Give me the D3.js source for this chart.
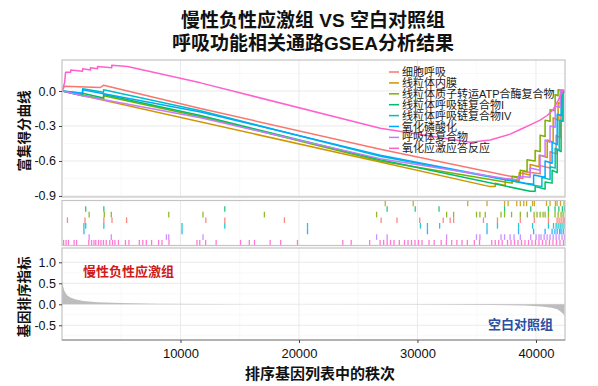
<!DOCTYPE html>
<html>
<head>
<meta charset="utf-8">
<script src="https://cdn.jsdelivr.net/npm/d3@7"></script>
<style>
  html, body { margin: 0; padding: 0; background: #fff; }
  svg { display: block; font-family: "Liberation Sans", Arial, "Noto Sans CJK SC", sans-serif; }
</style>
</head>
<body>
<svg id="chart" width="598" height="386"></svg>
<script>
// ——— Data ———
const titleLines = ['慢性负性应激组 VS 空白对照组', '呼吸功能相关通路GSEA分析结果'];

const setNames = [
    '细胞呼吸', '线粒体内膜', '线粒体质子转运ATP合酶复合物', '线粒体呼吸链复合物I',
    '线粒体呼吸链复合物IV', '氧化磷酸化', '呼吸体复合物', '氧化应激应答反应'
];
const setColors = ['#F8766D', '#CD9600', '#7CAE00', '#00BE67', '#00BFC4', '#00A9FF', '#C77CFF', '#FF61CC'];

// running enrichment score, [rank, ES]
const esCellResp = [[0,0],[200,0.04],[3250,0.03],[3510,0.05],[11690,-0.15],[26860,-0.50],[38240,-0.74],[38900,-0.75],[38900,-0.69],[40350,-0.71],[40350,-0.64],[41190,-0.66],[41190,-0.52],[41700,-0.54],[41700,-0.38],[42040,-0.40],[42040,-0.20],[42200,-0.21],[42200,-0.02],[42400,0]];
const esInnerMembrane = [[0,0],[36140,-0.82],[36560,-0.82],[36560,-0.79],[37400,-0.81],[37400,-0.75],[38580,-0.77],[38580,-0.70],[39510,-0.72],[39510,-0.63],[40270,-0.65],[40270,-0.55],[40950,-0.57],[40950,-0.42],[41450,-0.44],[41450,-0.23],[41870,-0.25],[41870,-0.10],[42120,-0.11],[42120,0.01],[42400,0]];
const esAtpSynthase = [[0,0],[3510,-0.07],[3510,-0.04],[11690,-0.22],[26860,-0.60],[37400,-0.78],[37990,-0.79],[37990,-0.73],[38670,-0.74],[38670,-0.68],[39250,-0.69],[39250,-0.59],[39930,-0.60],[39930,-0.51],[40350,-0.52],[40350,-0.38],[40770,-0.39],[40770,-0.25],[41190,-0.26],[41190,-0.16],[41620,-0.17],[41620,-0.03],[41870,-0.04],[41870,0.01],[42400,0]];
const esComplexI = [[0,0],[1740,-0.04],[1740,-0.02],[3510,-0.06],[3510,-0.03],[11690,-0.21],[26860,-0.59],[39510,-0.86],[39930,-0.86],[39930,-0.82],[40770,-0.84],[40770,-0.78],[41360,-0.79],[41360,-0.68],[41790,-0.70],[41790,-0.50],[42120,-0.52],[42120,-0.25],[42290,-0.26],[42290,-0.02],[42400,0]];
const esComplexIV = [[0,0],[1740,-0.02],[1740,0.02],[3510,-0.01],[3510,0.01],[11690,-0.17],[26860,-0.56],[39930,-0.81],[40500,-0.82],[40500,-0.74],[41190,-0.76],[41190,-0.65],[41620,-0.66],[41620,-0.49],[41960,-0.51],[41960,-0.25],[42200,-0.26],[42200,-0.03],[42400,0]];
const esOxPhos = [[0,0],[1740,-0.02],[1740,0.01],[11690,-0.18],[26860,-0.55],[39090,-0.79],[39800,-0.80],[39800,-0.72],[40770,-0.74],[40770,-0.60],[41360,-0.62],[41360,-0.44],[41790,-0.46],[41790,-0.20],[42120,-0.21],[42120,-0.01],[42400,0]];
const esRespirasome = [[0,0],[1740,-0.04],[11690,-0.23],[26860,-0.58],[37400,-0.75],[38500,-0.76],[38500,-0.73],[39510,-0.74],[39510,-0.66],[40350,-0.68],[40350,-0.55],[40770,-0.56],[40770,-0.42],[41190,-0.44],[41190,-0.30],[41620,-0.31],[41620,-0.13],[42040,-0.14],[42040,0.01],[42400,0]];
const esOxStress = [[0,0],[220,0.07],[300,0.16],[730,0.16],[730,0.18],[1740,0.17],[1740,0.19],[2400,0.18],[2400,0.20],[3000,0.19],[3000,0.21],[4200,0.20],[4200,0.22],[5530,0.21],[11690,0.07],[26860,-0.32],[34450,-0.44],[36140,-0.42],[37820,-0.37],[38670,-0.33],[39510,-0.29],[40350,-0.25],[40940,-0.21],[41450,-0.16],[41870,-0.08],[42290,0.01],[42400,0]];

// gene hit positions (ranks) per set
const hitsCellResp = [460,1940,3530,4220,5450,12140,13740,18770,26930,28270,30190,32170,32760,33050,35570,36750,38680,39860,41050,41780,41950,42120,42290,42400];
const hitsInnerMembrane = [27280,29640,34240,35870,37350,37650,38380,38680,38970,39210,39710,39860,40890,41190,41640,41780,42070,42370];
const hitsAtpSynthase = [2290,3570,4160,9010,11900,17080,26550,32460,33050,34980,35270,35720,37050,37350,37940,38680,39270,39840,40090,40350,40600,40770,41050,41610,41870,42120,42290];
const hitsComplexI = [2000,3530,13740,27440,29810,31820,37350,39560,41050,41610,41930,42230,42400];
const hitsComplexIV = [1850,2000,3530,10130,13740,20720,30250,30840,31870,35870,36750,38530,39710,41050,41480,41700,41870,42040,42200,42370];
const hitsOxPhos = [1850,10130,20720,30840,35870,38530,39800,40770,41360,41600,41790,42000,42120,42300];
const hitsRespirasome = [2290,4160,8810,9010,11900,26550,27440,32460,34980,35270,37050,37350,37820,38150,38680,39560,40010,40260,40430,40690,40940,41190,41450,41700,41950,42200,42400];
const hitsOxStress = [135,346,548,1020,1231,2259,2495,2698,2849,3085,3288,3498,3734,4030,4266,4468,4763,5353,5648,6525,6820,7115,7562,8152,8438,9029,11389,11625,12122,13008,15065,15806,16245,17568,18454,19870,23697,24405,25964,26850,27145,27440,27726,28021,28468,28906,29201,29496,29791,30087,30382,30972,31410,32000,32439,32886,33324,33762,34209,34799,35237,36266,36561,36856,37151,37598,37893,38188,38483,38778,39073,39368,39663,39958,40253,40548,40843,41138,41433,41728,42024,42319];

// top-to-bottom order of the hit rows
const rugOrder = ['线粒体内膜', '线粒体呼吸链复合物I', '线粒体质子转运ATP合酶复合物', '细胞呼吸',
    '线粒体呼吸链复合物IV', '氧化磷酸化', '呼吸体复合物', '氧化应激应答反应'];

// ranked list metric
const metricRank = [0,100,200,400,700,1100,1800,3000,5000,8000,13000,20000,30000,36000,39000,40500,41300,41800,42100,42300,42400];
const metricValue = [0.56,0.42,0.32,0.22,0.16,0.12,0.08,0.05,0.03,0.015,0.005,0,-0.005,-0.015,-0.03,-0.05,-0.08,-0.12,-0.18,-0.23,-0.28];

const xTicks = [10000, 20000, 30000, 40000];
const xMinor = [5000, 15000, 25000, 35000];
const esTicks = [0, -0.3, -0.6, -0.9];
const esMinor = [0.15, -0.15, -0.45, -0.75];
const metricTicks = [1, 0.5, 0, -0.5];
const metricMinor = [1.25, 0.75, 0.25, -0.25, -0.75];

(() => {
    const esSeries = [esCellResp, esInnerMembrane, esAtpSynthase, esComplexI, esComplexIV, esOxPhos, esRespirasome, esOxStress];
    const hitSeries = [hitsCellResp, hitsInnerMembrane, hitsAtpSynthase, hitsComplexI, hitsComplexIV, hitsOxPhos, hitsRespirasome, hitsOxStress];
    const color = d3.scaleOrdinal().domain(setNames).range(setColors);

    const svg = d3.select('#chart');
    const L = 62, R = 565;
    const P1 = [60, 197], P2 = [200.5, 245.5], P3 = [248, 340];

    const x = d3.scaleLinear().domain([0, 42450]).range([L, R]);
    const yEs = d3.scaleLinear().domain([-0.909, 0.266]).range([P1[1], P1[0]]);
    const yMetric = d3.scaleLinear().domain([-0.85, 1.34]).range([P3[1], P3[0]]);
    const yRow = d3.scaleBand().domain(rugOrder).range(P2);
    const fmt1 = d => d.toFixed(1);   // plain hyphen minus, like the original

    // ——— Title ———
    svg.append('g').selectAll('text').data(titleLines).join('text')
        .attr('x', 313).attr('y', (d, i) => 27 + i * 23)
        .attr('text-anchor', 'middle')
        .attr('font-size', 19).attr('font-weight', 'bold').attr('fill', '#111')
        .text(d => d);

    // ——— Axis titles ———
    svg.append('text').attr('transform', 'translate(29,131) rotate(-90)')
        .attr('text-anchor', 'middle').attr('font-size', 13.5).attr('font-weight', 'bold').attr('fill', '#111')
        .text('富集得分曲线');
    svg.append('text').attr('transform', 'translate(29,297) rotate(-90)')
        .attr('text-anchor', 'middle').attr('font-size', 13.5).attr('font-weight', 'bold').attr('fill', '#111')
        .text('基因排序指标');
    svg.append('text').attr('x', 320).attr('y', 379)
        .attr('text-anchor', 'middle').attr('font-size', 15).attr('font-weight', 'bold').attr('fill', '#111')
        .text('排序基因列表中的秩次');

    // ——— Grids ———
    function grid(top, bottom, yScale, major, minor) {
        const g = svg.append('g');
        g.selectAll('.vmin').data(xMinor).join('line')
            .attr('x1', d => x(d)).attr('x2', d => x(d)).attr('y1', top).attr('y2', bottom)
            .attr('stroke', '#F3F3F3').attr('stroke-width', 0.6);
        g.selectAll('.vmaj').data(xTicks).join('line')
            .attr('x1', d => x(d)).attr('x2', d => x(d)).attr('y1', top).attr('y2', bottom)
            .attr('stroke', '#E8E8E8').attr('stroke-width', 0.9);
        if (!yScale) return;
        g.selectAll('.hmin').data(minor).join('line')
            .attr('x1', L).attr('x2', R).attr('y1', d => yScale(d)).attr('y2', d => yScale(d))
            .attr('stroke', '#F3F3F3').attr('stroke-width', 0.6);
        g.selectAll('.hmaj').data(major).join('line')
            .attr('x1', L).attr('x2', R).attr('y1', d => yScale(d)).attr('y2', d => yScale(d))
            .attr('stroke', '#E8E8E8').attr('stroke-width', 0.9);
    }
    grid(P1[0], P1[1], yEs, esTicks, esMinor);
    grid(P2[0], P2[1], null);
    grid(P3[0], P3[1], yMetric, metricTicks, metricMinor);

    // ——— Running ES curves ———
    svg.append('clipPath').attr('id', 'clipTop')
        .append('rect').attr('x', L).attr('y', P1[0]).attr('width', R - L).attr('height', P1[1] - P1[0]);
    const line = d3.line().x(d => x(d[0])).y(d => yEs(d[1]));
    svg.append('g').attr('clip-path', 'url(#clipTop)')
        .selectAll('path').data(esSeries).join('path')
        .attr('d', line)
        .attr('fill', 'none')
        .attr('stroke', (d, i) => color(setNames[i]))
        .attr('stroke-width', 1.5)
        .attr('stroke-linejoin', 'round');

    // ——— Legend ———
    const leg = svg.append('g').attr('transform', 'translate(389,72)');
    const item = leg.selectAll('g').data(setNames).join('g')
        .attr('transform', (d, i) => `translate(0,${i * 10.9})`);
    item.append('line').attr('x1', 0).attr('x2', 10).attr('y1', 0).attr('y2', 0)
        .attr('stroke', d => color(d)).attr('stroke-width', 1.5);
    item.append('text').attr('x', 13).attr('y', 4)
        .attr('font-size', 11).attr('fill', '#1a1a1a')
        .text(d => d);

    // ——— Hit rug ———
    const rug = svg.append('g');
    setNames.forEach((name, i) => {
        rug.selectAll(null).data(hitSeries[i]).join('line')
            .attr('x1', d => x(d)).attr('x2', d => x(d))
            .attr('y1', yRow(name)).attr('y2', yRow(name) + yRow.bandwidth())
            .attr('stroke', color(name))
            .attr('stroke-width', 1.3)
            .attr('stroke-opacity', 0.85);
    });

    // ——— Ranked list metric ———
    const area = d3.area()
        .x((d, i) => x(metricRank[i]))
        .y0(yMetric(0))
        .y1(d => yMetric(d));
    svg.append('path').datum(metricValue)
        .attr('d', area)
        .attr('fill', '#BDBDBD');

    svg.append('text').attr('x', 83).attr('y', 275.5)
        .attr('font-size', 13).attr('font-weight', 'bold').attr('fill', '#D11A1A')
        .text('慢性负性应激组');
    svg.append('text').attr('x', 488).attr('y', 328.5)
        .attr('font-size', 13).attr('font-weight', 'bold').attr('fill', '#2C4FA3')
        .text('空白对照组');

    // ——— Panel borders ———
    [P1, P2, P3].forEach(p => {
        svg.append('rect').attr('x', L).attr('y', p[0]).attr('width', R - L).attr('height', p[1] - p[0])
            .attr('fill', 'none').attr('stroke', '#C4C4C4').attr('stroke-width', 1.2);
    });
    svg.append('line').attr('x1', L).attr('x2', R).attr('y1', P3[1]).attr('y2', P3[1])
        .attr('stroke', '#8A8A8A').attr('stroke-width', 1.2);

    // ——— Axes ———
    function styleAxis(g) {
        g.select('.domain').remove();
        g.selectAll('.tick line').attr('stroke', '#444');
        g.selectAll('.tick text').attr('fill', '#111').attr('font-size', 12.5)
            .attr('font-family', '"Liberation Sans", Arial, sans-serif');
    }
    svg.append('g').attr('transform', `translate(${L},0)`)
        .call(d3.axisLeft(yEs).tickValues(esTicks).tickFormat(fmt1).tickSize(3).tickPadding(3))
        .call(styleAxis);
    svg.append('g').attr('transform', `translate(${L},0)`)
        .call(d3.axisLeft(yMetric).tickValues(metricTicks).tickFormat(fmt1).tickSize(3).tickPadding(3))
        .call(styleAxis);
    const xa = svg.append('g').attr('transform', `translate(0,${P3[1]})`)
        .call(d3.axisBottom(x).tickValues(xTicks).tickFormat(d3.format('d')).tickSize(3).tickPadding(6))
        .call(styleAxis);
    xa.selectAll('.tick text').attr('font-size', 13);
})();
</script>
</body>
</html>
